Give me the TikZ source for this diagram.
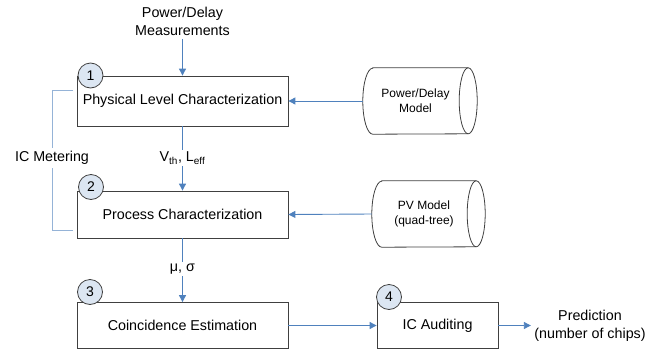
\documentclass[tikz,border=0pt]{standalone}
\usepackage{fontspec}
\setmainfont{Liberation Sans}
\usetikzlibrary{arrows.meta}
\definecolor{arrowblue}{HTML}{4F81BD}
\definecolor{bracketblue}{HTML}{95B3D7}
\definecolor{edgegray}{HTML}{404040}
\definecolor{badgefill}{HTML}{DCE6F2}
\tikzset{
  stepbox/.style={draw=edgegray, line width=0.8pt, fill=white, minimum width=211pt,
    minimum height=#1, inner sep=0pt, font=\fontsize{14.3}{16}\selectfont},
  badge/.style={circle, draw=edgegray, line width=0.8pt, fill=badgefill, minimum size=25pt,
    inner sep=0pt, font=\fontsize{14}{16}\selectfont},
  drumtext/.style={minimum height=66pt, inner sep=0pt, align=center,
    font=\fontsize{12}{15}\selectfont},
  drumline/.style={draw=edgegray, line width=0.8pt},
  plain/.style={font=\fontsize{14.3}{18}\selectfont, align=center},
  flowline/.style={draw=arrowblue, line width=0.9pt},
  flow/.style={flowline, -{Triangle[length=7pt,width=7pt]}},
  bracket/.style={draw=bracketblue, line width=1pt},
}
\begin{document}
\begin{tikzpicture}[x=1pt,y=1pt]
\useasboundingbox (0,0) rectangle (672,-351);

% boxes
\node[stepbox=50pt] (box1) at (182.5,-101) {Physical Level Characterization};
\node[stepbox=47pt] (box2) at (182.5,-214.5) {Process Characterization};
\node[stepbox=46pt] (box3) at (182.5,-325.5) {Coincidence Estimation};
\node[stepbox=46pt, minimum width=121pt] (box4) at (437.5,-325.5) {IC Auditing};

% badges
\node[badge] (b1) at (90.5,-75.5) {1};
\node[badge] (b2) at (91,-187) {2};
\node[badge] (b3) at (90,-292) {3};
\node[badge] (b4) at (389,-297) {4};

% cylinders (drums)
\node[drumtext, minimum width=105pt] (cyl1) at (415.5,-101) {Power/Delay\\Model};
\draw[drumline] ([xshift=10pt]cyl1.north west) -- (cyl1.north east)
  arc[start angle=90,end angle=-90,x radius=9pt,y radius=33pt]
  -- ([xshift=10pt]cyl1.south west)
  arc[start angle=270,end angle=90,x radius=10pt,y radius=33pt] -- cycle;
\draw[drumline] (cyl1.north east) arc[start angle=90,end angle=270,x radius=9pt,y radius=33pt];

\node[drumtext, minimum width=104pt] (cyl2) at (424,-214) {PV Model\\(quad-tree)};
\draw[drumline] ([xshift=10pt]cyl2.north west) -- (cyl2.north east)
  arc[start angle=90,end angle=-90,x radius=9pt,y radius=33pt]
  -- ([xshift=10pt]cyl2.south west)
  arc[start angle=270,end angle=90,x radius=10pt,y radius=33pt] -- cycle;
\draw[drumline] (cyl2.north east) arc[start angle=90,end angle=270,x radius=9pt,y radius=33pt];

% labels
\node[plain] (meas) at (182.5,-21) {Power/Delay\\Measurements};
\node[plain, inner sep=2pt] (vth) at (182.5,-158) {V\textsubscript{th}, L\textsubscript{eff}};
\node[plain, inner sep=2pt] (musig) at (182.5,-269) {μ, σ};
\node[plain] (pred) at (590,-325.5) {Prediction\\(number of chips)};
\node[plain, fill=white, inner sep=3pt] (icm) at (52,-158) {IC Metering};

% connectors
\draw[flow] (meas.south) -- (box1.north);
\draw[flow] (cyl1.west) -- (box1.east);
\draw[flow] (cyl2.west) -- (box2.east);
\draw[flowline] (box1.south) -- (vth.north);
\draw[flow] (vth.south) -- (box2.north);
\draw[flowline] (box2.south) -- (musig.north);
\draw[flow] (musig.south) -- (box3.north);
\draw[flow] (box3.east) -- (box4.west);
\draw[flow] (box4.east) -- (pred.west);

% IC metering bracket
\coordinate (brtop) at (73,-90);
\coordinate (brbot) at (73,-230);
\draw[bracket] (brtop) -| (icm.north);
\draw[bracket] (brbot) -| (icm.south);
\end{tikzpicture}
\end{document}
